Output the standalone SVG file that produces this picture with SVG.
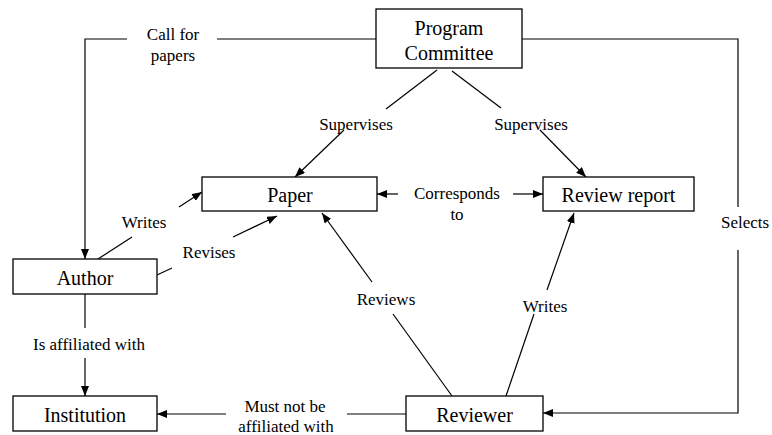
<svg xmlns="http://www.w3.org/2000/svg" width="772" height="435" viewBox="0 0 772 435">
<defs>
<marker id="ah" viewBox="0 0 10 8" refX="10" refY="4" markerWidth="10" markerHeight="8" markerUnits="userSpaceOnUse" orient="auto">
<path d="M0,0 L10,4 L0,8 Z" fill="#000"/>
</marker>
<style>
.box{fill:#fff;stroke:#000;stroke-width:1.3}
.ln{fill:none;stroke:#000;stroke-width:1.2}
.ar{fill:none;stroke:#000;stroke-width:1.2;marker-end:url(#ah)}
</style>
</defs>
<rect width="772" height="435" fill="#fff"/>
<g id="connectors">
<polyline class="ln" points="376,39 217,39"/>
<polyline class="ar" points="127,39 85,39 85,259"/>
<polyline class="ln" points="522,39 738,39 738,207"/>
<polyline class="ar" points="738,250 738,413 543,413"/>
<line class="ln" x1="437" y1="70" x2="386" y2="109"/>
<line class="ar" x1="344" y1="130" x2="295" y2="177"/>
<line class="ln" x1="452" y1="71" x2="501" y2="108"/>
<line class="ar" x1="540" y1="130" x2="586" y2="177"/>
<line class="ar" x1="398" y1="194" x2="377" y2="194"/>
<line class="ar" x1="513" y1="194" x2="543" y2="194"/>
<line class="ln" x1="98" y1="259" x2="132" y2="237"/>
<line class="ar" x1="179" y1="207" x2="202" y2="192"/>
<line class="ln" x1="157" y1="275" x2="172" y2="268"/>
<line class="ar" x1="233" y1="237" x2="277" y2="216"/>
<line class="ln" x1="452" y1="396" x2="393" y2="314"/>
<line class="ar" x1="372" y1="282" x2="322" y2="213"/>
<line class="ln" x1="506" y1="396" x2="534" y2="314"/>
<line class="ar" x1="547" y1="290" x2="574" y2="213"/>
<line class="ln" x1="85" y1="294" x2="85" y2="328"/>
<line class="ar" x1="85" y1="358" x2="85" y2="396"/>
<line class="ln" x1="406" y1="414" x2="347" y2="414"/>
<line class="ar" x1="226" y1="414" x2="157" y2="414"/>
<g font-family="Liberation Serif" font-size="17" text-anchor="middle" fill="#000">
<text x="173" y="40">Call for</text>
<text x="173" y="61">papers</text>
<text x="745" y="228">Selects</text>
<text x="356" y="130">Supervises</text>
<text x="531" y="130">Supervises</text>
<text x="457" y="199">Corresponds</text>
<text x="457" y="220">to</text>
<text x="144" y="228">Writes</text>
<text x="209" y="258">Revises</text>
<text x="386" y="305">Reviews</text>
<text x="545" y="312">Writes</text>
<text x="89" y="350">Is affiliated with</text>
<text x="285" y="412">Must not be</text>
<text x="286" y="432">affiliated with</text>
</g>
</g>
<g font-family="Liberation Serif" font-size="20" text-anchor="middle" fill="#000">
<g id="program-committee">
<rect class="box" x="376" y="9" width="146" height="59"/>
<text x="449" y="35">Program</text>
<text x="449" y="60">Committee</text>
</g>
<g id="paper">
<rect class="box" x="202" y="177" width="175" height="34"/>
<text x="290" y="202">Paper</text>
</g>
<g id="review-report">
<rect class="box" x="543" y="177" width="151" height="34"/>
<text x="618.5" y="202">Review report</text>
</g>
<g id="author">
<rect class="box" x="13" y="259" width="144" height="35"/>
<text x="85" y="285">Author</text>
</g>
<g id="institution">
<rect class="box" x="13" y="396" width="144" height="35"/>
<text x="85" y="422">Institution</text>
</g>
<g id="reviewer">
<rect class="box" x="406" y="396" width="137" height="35"/>
<text x="474.5" y="422">Reviewer</text>
</g>
</g>
</svg>
